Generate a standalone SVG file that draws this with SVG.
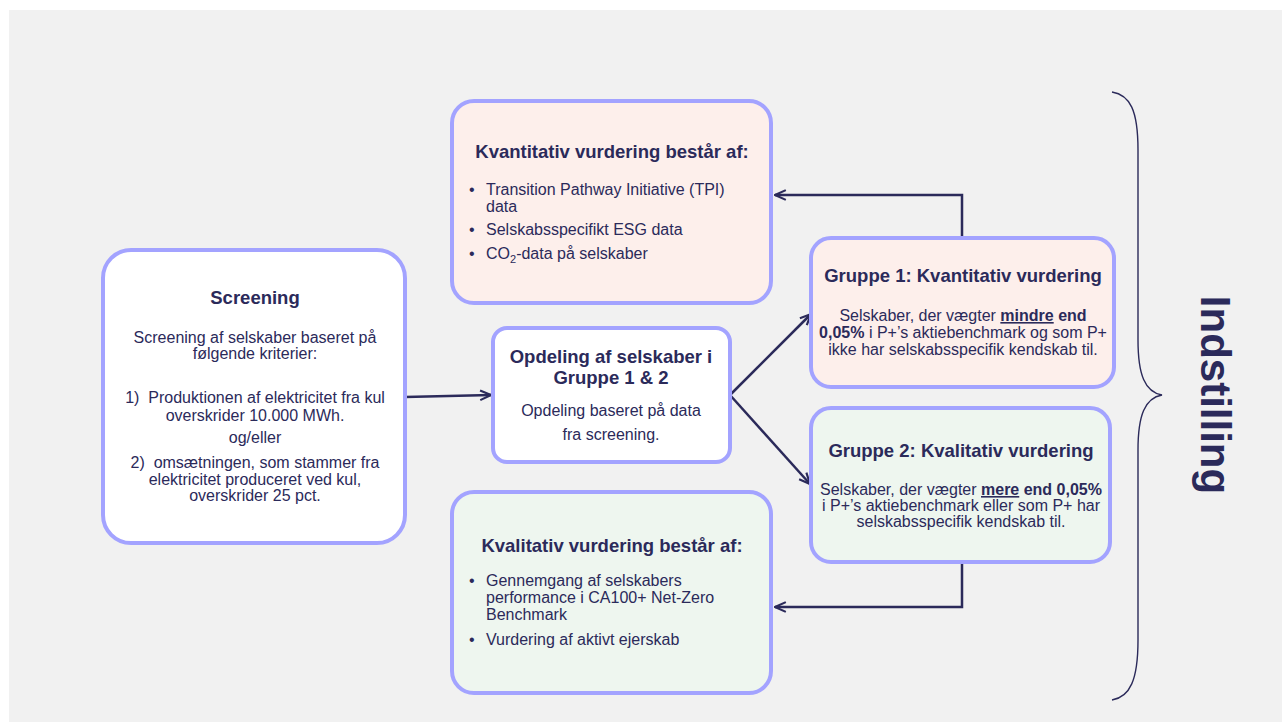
<svg xmlns="http://www.w3.org/2000/svg" width="1282" height="722" viewBox="0 0 1282 722">
<style>
.box{stroke:#a3a3ff;stroke-width:4}
.w{fill:#ffffff}
.p{fill:#fdefeb}
.g{fill:#eef6ef}
text{font-family:"Liberation Sans",Arial,sans-serif;fill:#2b2a5a}
.t{font-size:18.5px;font-weight:bold;text-anchor:middle}
.b{font-size:16px;text-anchor:middle}
.l{font-size:16px}
.conn{stroke:#2b2a5a;stroke-width:2.5;fill:none}
</style>
<defs>
<marker id="ah" markerUnits="userSpaceOnUse" viewBox="0 0 12 12" refX="11" refY="6" markerWidth="13" markerHeight="13" orient="auto">
<path d="M1,1.5 L11,6 L1,10.5" fill="none" stroke="#2b2a5a" stroke-width="2"/>
</marker>
</defs>
<rect x="9" y="10" width="1273" height="712" fill="#f1f1f1"/>

<g id="connectors">
<line class="conn" x1="405" y1="397" x2="491" y2="395" marker-end="url(#ah)"/>
<line class="conn" x1="730" y1="395" x2="811" y2="314" marker-end="url(#ah)"/>
<line class="conn" x1="730" y1="395" x2="810" y2="484" marker-end="url(#ah)"/>
<polyline class="conn" points="962,238 962,195 775,195" marker-end="url(#ah)"/>
<polyline class="conn" points="962,562 962,607 775,607" marker-end="url(#ah)"/>
</g>

<g id="screening">
<rect class="box w" x="103" y="250" width="302" height="293" rx="28"/>
<text class="t" x="255" y="304">Screening</text>
<text class="b" x="255" y="343">Screening af selskaber baseret på</text>
<text class="b" x="255" y="359">følgende kriterier:</text>
<text class="b" x="255" y="403">1)&#160; Produktionen af elektricitet fra kul</text>
<text class="b" x="255" y="421">overskrider 10.000 MWh.</text>
<text class="b" x="255" y="443">og/eller</text>
<text class="b" x="255" y="468">2)&#160; omsætningen, som stammer fra</text>
<text class="b" x="255" y="485">elektricitet produceret ved kul,</text>
<text class="b" x="255" y="501">overskrider 25 pct.</text>
</g>

<g id="kvantitativ">
<rect class="box p" x="452" y="101" width="319" height="202" rx="22"/>
<text class="t" x="612" y="158">Kvantitativ vurdering består af:</text>
<text class="l" x="469" y="195">•</text>
<text class="l" x="486" y="195">Transition Pathway Initiative (TPI)</text>
<text class="l" x="486" y="212">data</text>
<text class="l" x="469" y="235">•</text>
<text class="l" x="486" y="235">Selskabsspecifikt ESG data</text>
<text class="l" x="469" y="259">•</text>
<text class="l" x="486" y="259">CO<tspan font-size="11px" dy="4">2</tspan><tspan dy="-4">-data på selskaber</tspan></text>
</g>

<g id="kvalitativ">
<rect class="box g" x="452" y="492" width="319" height="201" rx="22"/>
<text class="t" x="612" y="552">Kvalitativ vurdering består af:</text>
<text class="l" x="469" y="586">•</text>
<text class="l" x="486" y="586">Gennemgang af selskabers</text>
<text class="l" x="486" y="603">performance i CA100+ Net-Zero</text>
<text class="l" x="486" y="620">Benchmark</text>
<text class="l" x="469" y="645">•</text>
<text class="l" x="486" y="645">Vurdering af aktivt ejerskab</text>
</g>

<g id="opdeling">
<rect class="box w" x="493" y="328" width="237" height="134" rx="14"/>
<text class="t" x="611" y="363">Opdeling af selskaber i</text>
<text class="t" x="611" y="384">Gruppe 1 &amp; 2</text>
<text class="b" x="611" y="416">Opdeling baseret på data</text>
<text class="b" x="611" y="440">fra screening.</text>
</g>

<g id="gruppe1">
<rect class="box p" x="811" y="238" width="303" height="149" rx="20"/>
<text class="t" x="963" y="282">Gruppe 1: Kvantitativ vurdering</text>
<text class="b" x="963" y="321">Selskaber, der vægter <tspan font-weight="bold" text-decoration="underline">mindre</tspan><tspan font-weight="bold"> end</tspan></text>
<text class="b" x="963" y="338"><tspan font-weight="bold">0,05%</tspan> i P+’s aktiebenchmark og som P+</text>
<text class="b" x="963" y="355">ikke har selskabsspecifik kendskab til.</text>
</g>

<g id="gruppe2">
<rect class="box g" x="811" y="408" width="299" height="154" rx="20"/>
<text class="t" x="961" y="457">Gruppe 2: Kvalitativ vurdering</text>
<text class="b" x="961" y="495">Selskaber, der vægter <tspan font-weight="bold" text-decoration="underline">mere</tspan><tspan font-weight="bold"> end 0,05%</tspan></text>
<text class="b" x="961" y="511">i P+’s aktiebenchmark eller som P+ har</text>
<text class="b" x="961" y="527">selskabsspecifik kendskab til.</text>
</g>

<g id="indstilling">
<path d="M1112,92 C1130,95 1138,110 1138,150 L1138,340 C1138,375 1145,392 1162,395 C1145,398 1138,415 1138,450 L1138,640 C1138,680 1130,697 1112,700" fill="none" stroke="#2b2a5a" stroke-width="1.4"/>
<text transform="translate(1201,395) rotate(90)" text-anchor="middle" font-size="42px" font-weight="bold">Indstilling</text>
</g>
</svg>
